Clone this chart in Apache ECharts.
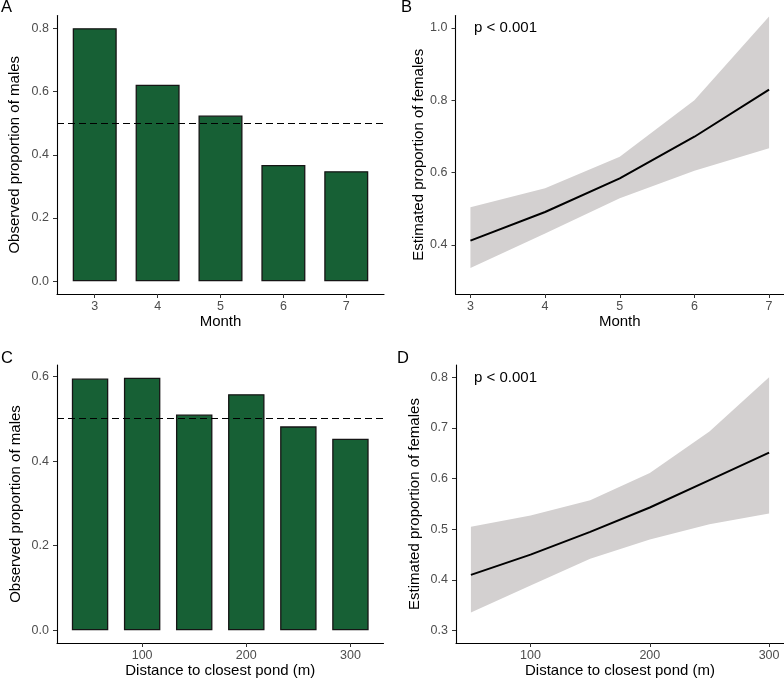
<!DOCTYPE html>
<html><head><meta charset="utf-8">
<script src="https://cdn.jsdelivr.net/npm/echarts@6/dist/echarts.min.js"></script>
<style>html,body{margin:0;padding:0;background:#fff}#c{width:784px;height:679px}</style>
</head><body><div id="c"></div>
<script>
// ---------------- DATA ----------------
const monthValues = [3, 4, 5, 6, 7];
const monthTicks = [3, 4, 5, 6, 7];
const malePropByMonth = [0.800, 0.621, 0.524, 0.368, 0.348];
const femEstByMonth = [0.412, 0.491, 0.584, 0.699, 0.829];
const femLowByMonth = [0.336, 0.432, 0.529, 0.605, 0.667];
const femUpByMonth  = [0.504, 0.557, 0.644, 0.800, 1.031];

const distanceValues = [50, 100, 150, 200, 250, 300];
const distanceTicks = [100, 200, 300];
const malePropByDistance = [0.595, 0.597, 0.510, 0.558, 0.482, 0.453];
const femEstByDistance = [0.410, 0.450, 0.495, 0.543, 0.597, 0.651];
const femLowByDistance = [0.336, 0.389, 0.442, 0.480, 0.510, 0.531];
const femUpByDistance  = [0.505, 0.527, 0.557, 0.611, 0.693, 0.800];

const yTicksA = [0, 0.2, 0.4, 0.6, 0.8];
const yTicksB = [0.4, 0.6, 0.8, 1.0];
const yTicksC = [0, 0.2, 0.4, 0.6];
const yTicksD = [0.3, 0.4, 0.5, 0.6, 0.7, 0.8];
const parityLevel = 0.5;
const panelLetters = ['A', 'B', 'C', 'D'];
const pValueText = 'p < 0.001';
const titles = {
  month: 'Month',
  distance: 'Distance to closest pond (m)',
  observed: 'Observed proportion of males',
  estimated: 'Estimated proportion of females'
};

// ---------------- LAYOUT / STYLE ----------------
const FONT = '"Liberation Sans", Arial, Helvetica, sans-serif';
const BAR_FILL = '#176035';
const RIBBON = '#D3D0D0';
const grids = [
  {left: 57, top: 15.5, width: 327, height: 278.5},
  {left: 455.5, top: 15.5, width: 328.5, height: 278.5},
  {left: 57, top: 365, width: 326.5, height: 278},
  {left: 456, top: 365, width: 328, height: 278}
];
const xExt = [[2.4, 7.6], [2.8, 7.2], [18.25, 331.75], [37.5, 312.5]];
const yExt = [[-0.04, 0.84], [0.2645, 1.034], [-0.0299, 0.627], [0.2757, 0.824]];
const yNameGap = [35, 29, 34, 34];

function zip(a, b) { return a.map((v, i) => [v, b[i]]); }

function xAxis(i, ticks, name) {
  return {
    type: 'value', gridIndex: i, min: xExt[i][0], max: xExt[i][1],
    name: name, nameLocation: 'middle', nameGap: 18,
    nameTextStyle: {fontFamily: FONT, fontSize: 15, color: '#000'},
    axisLine: {show: true, onZero: false, lineStyle: {color: '#000', width: 1.1}},
    axisTick: {show: true, length: 4, customValues: ticks, lineStyle: {color: '#333', width: 1}},
    axisLabel: {customValues: ticks, margin: 6, fontFamily: FONT, fontSize: 12.5, color: '#4D4D4D',
      formatter: v => String(v)},
    splitLine: {show: false}
  };
}
function yAxis(i, ticks, name) {
  return {
    type: 'value', gridIndex: i, min: yExt[i][0], max: yExt[i][1],
    name: name, nameLocation: 'middle', nameGap: yNameGap[i],
    nameTextStyle: {fontFamily: FONT, fontSize: 15, color: '#000'},
    axisLine: {show: true, onZero: false, lineStyle: {color: '#000', width: 1.1}},
    axisTick: {show: true, length: 4, customValues: ticks, lineStyle: {color: '#333', width: 1}},
    axisLabel: {customValues: ticks, margin: 8, fontFamily: FONT, fontSize: 12.5, color: '#4D4D4D',
      formatter: v => v.toFixed(1)},
    splitLine: {show: false}
  };
}

const barWidthA = 0.7 * grids[0].width / (xExt[0][1] - xExt[0][0]);
const barWidthC = 0.7 * 50 * grids[2].width / (xExt[2][1] - xExt[2][0]);

function barSeries(i, xs, ys, bw) {
  return {
    type: 'bar', xAxisIndex: i, yAxisIndex: i, data: zip(xs, ys), barWidth: bw,
    itemStyle: {color: BAR_FILL, borderColor: '#151515', borderWidth: 1.3},
    silent: true,
    markLine: {
      silent: true, symbol: ['none', 'none'], label: {show: false},
      lineStyle: {color: '#000', width: 1.2, type: [7, 4]},
      data: [{yAxis: parityLevel}]
    }
  };
}
function ribbonSeries(i, xs, low, up, est) {
  // one polygon built from the upper and lower bounds, through the axis scales
  const ring = zip(xs, up).concat(zip(xs, low).reverse());
  return [
    {type: 'custom', xAxisIndex: i, yAxisIndex: i, silent: true, z: 1,
     data: [[xs[0], low[0]]],
     renderItem: function (params, api) {
       const pts = ring.map(p => api.coord(p));
       return {type: 'polygon', shape: {points: pts}, style: {fill: RIBBON, stroke: null}};
     }},
    {type: 'line', xAxisIndex: i, yAxisIndex: i, data: zip(xs, est), symbol: 'none',
     lineStyle: {color: '#000', width: 2}, silent: true, z: 5}
  ];
}

const letterPos = [[1, 7.5], [401, 7.5], [1, 358], [397, 358]];
const pPos = [[474, 27.5], [474, 377.5]];

const option = {
  animation: false,
  backgroundColor: '#fff',
  grid: grids.map(g => Object.assign({containLabel: false}, g)),
  xAxis: [
    xAxis(0, monthTicks, titles.month),
    xAxis(1, monthTicks, titles.month),
    xAxis(2, distanceTicks, titles.distance),
    xAxis(3, distanceTicks, titles.distance)
  ],
  yAxis: [
    yAxis(0, yTicksA, titles.observed),
    yAxis(1, yTicksB, titles.estimated),
    yAxis(2, yTicksC, titles.observed),
    yAxis(3, yTicksD, titles.estimated)
  ],
  series: [
    barSeries(0, monthValues, malePropByMonth, barWidthA),
    ...ribbonSeries(1, monthValues, femLowByMonth, femUpByMonth, femEstByMonth),
    barSeries(2, distanceValues, malePropByDistance, barWidthC),
    ...ribbonSeries(3, distanceValues, femLowByDistance, femUpByDistance, femEstByDistance)
  ],
  graphic: [
    ...panelLetters.map((t, k) => ({
      type: 'text', x: letterPos[k][0], y: letterPos[k][1], silent: true,
      style: {text: t, font: '16.5px ' + FONT, fill: '#000', verticalAlign: 'middle', align: 'left'}
    })),
    ...pPos.map(p => ({
      type: 'text', x: p[0], y: p[1], silent: true,
      style: {text: pValueText, font: '15px ' + FONT, fill: '#000', verticalAlign: 'middle', align: 'left'}
    }))
  ]
};

const chart = echarts.init(document.getElementById('c'), null, {renderer: 'canvas'});
chart.setOption(option);
</script>
</body></html>
